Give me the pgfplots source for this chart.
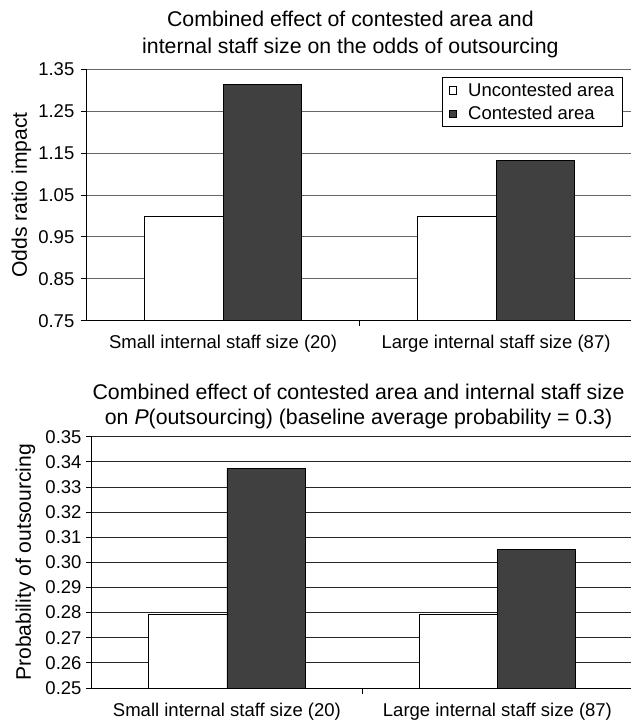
\documentclass[border=0pt]{standalone}
\usepackage{pgfplots}
\pgfplotsset{compat=1.18}
\usepackage{fontspec}
\setmainfont{Liberation Sans}
\definecolor{darkbar}{HTML}{404040}
\begin{document}
\begin{tikzpicture}
\useasboundingbox (0,0) rectangle (630pt,721pt);
\pgfplotsset{
  common/.style={
    scale only axis,
    xmin=-0.5, xmax=1.5,
    axis x line*=bottom, axis y line*=left,
    axis line style={line width=1pt, black},
    ymajorgrids,
    tick align=outside,
    major tick length=5.5pt,
    tick style={black, line width=0.8pt},
    xtick={0.5}, xticklabels={},
    extra x ticks={0,1},
    extra x tick labels={Small internal staff size (20), Large internal staff size (87)},
    extra x tick style={major tick length=0pt},
    xticklabel style={font=\fontsize{18.5}{22}\selectfont, anchor=north, inner sep=0pt, text height=13.3pt, text depth=4pt},
    yticklabel style={font=\fontsize{18.5}{22}\selectfont, anchor=east, inner sep=0pt,
      /pgf/number format/fixed, /pgf/number format/fixed zerofill,
      /pgf/number format/precision=2, /pgf/number format/assume math mode=true},
    ybar, bar width=0.287,
    title style={font=\fontsize{21.3}{26.7}\selectfont, align=center, anchor=south, inner sep=0pt},
    every axis y label/.style={at={(axis description cs:0,0.5)}, rotate=90, anchor=base, font=\fontsize{21.1}{25}\selectfont},
  }
}
% Top chart
\begin{axis}[common,
  at={(86.5pt,400.3pt)}, anchor=south west,
  width=546pt, height=251.4pt,
  ymin=0.75, ymax=1.35,
  ytick={0.75,0.85,0.95,1.05,1.15,1.25,1.35},
  grid style={black!60, line width=0.9pt},
  xticklabel style={yshift=-14.3pt},
  yticklabel style={xshift=-6.5pt},
  title={Combined effect of contested area and\\internal staff size on the odds of outsourcing},
  title style={at={(0.4833,1)}, yshift=5.5pt},
  ylabel={Odds ratio impact},
  ylabel style={yshift=59.5pt},
  legend style={at={(0.982,0.968)}, anchor=north east, draw=black, line width=0.8pt,
    font=\fontsize{18.5}{22}\selectfont, inner xsep=6pt, inner ysep=3pt, row sep=4.5pt},
  legend cell align=left,
  legend image code/.code={\draw[#1, /tikz/.cd, line width=0.6pt] (1.3pt,-3.65pt) rectangle (8.6pt,3.65pt); \path[draw=none, fill=none] (0pt,0pt) -- (18.3pt,0pt);},
]
\addplot[fill=white, draw=black, line width=0.8pt, bar shift=-0.1435] coordinates {(0,1.0) (1,1.0)};
\addplot[fill=darkbar, draw=black, line width=0.8pt, bar shift=0.1435] coordinates {(0,1.313) (1,1.1335)};
\legend{Uncontested area, Contested area}
\end{axis}
% Bottom chart
\begin{axis}[common,
  at={(91.7pt,33pt)}, anchor=south west,
  width=541pt, height=251.3pt,
  ymin=0.25, ymax=0.35,
  ytick={0.25,0.26,0.27,0.28,0.29,0.30,0.31,0.32,0.33,0.34,0.35},
  grid style={black!85, line width=0.9pt},
  xticklabel style={yshift=-15.4pt},
  yticklabel style={xshift=-4.5pt},
  bar width=0.29,
  title={Combined effect of contested area and internal staff size\\on \textit{P}(outsourcing) (baseline average probability = 0.3)},
  title style={at={(0.4933,1)}, yshift=1.2pt, font=\fontsize{21.3}{25}\selectfont},
  ylabel={Probability of outsourcing},
  ylabel style={yshift=60.7pt},
]
\addplot[fill=white, draw=black, line width=0.8pt, bar shift=-0.145] coordinates {(0,0.2794) (1,0.2794)};
\addplot[fill=darkbar, draw=black, line width=0.8pt, bar shift=0.145] coordinates {(0,0.3374) (1,0.3053)};
\end{axis}
\end{tikzpicture}
\end{document}
